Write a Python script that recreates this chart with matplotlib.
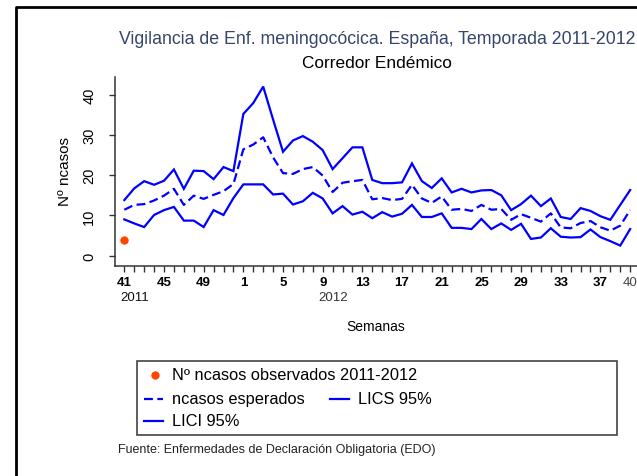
import matplotlib.pyplot as plt
from matplotlib.lines import Line2D
from matplotlib.patches import Rectangle

plt.rcParams['font.family'] = ['Liberation Sans', 'DejaVu Sans']

# season weeks 41/2011 .. 40/2012
weeks = list(range(41, 53)) + list(range(1, 41))
observados = [4]
esperados = [11.4, 12.6, 12.8, 13.7, 14.9, 16.6, 12.6, 14.9, 14.1, 15.1, 16.0, 17.8,
             26.4, 27.6, 29.4, 24.4, 20.5, 20.3, 21.5, 22.0, 19.9, 15.8, 18.1, 18.5,
             18.8, 14.0, 14.3, 13.8, 14.1, 17.6, 14.2, 13.1, 14.7, 11.4, 11.6, 11.1,
             12.6, 11.4, 11.6, 8.9, 10.3, 9.4, 8.45, 10.5, 7.0, 6.8, 8.1, 8.6,
             7.05, 6.2, 7.45, 11.35]
lics = [13.8, 16.7, 18.5, 17.6, 18.6, 21.4, 16.6, 21.1, 21.0, 19.0, 22.0, 21.0,
        35.2, 37.9, 42.0, 33.8, 25.8, 28.6, 29.7, 28.3, 26.2, 21.5, 24.2, 26.9,
        26.9, 18.8, 18.0, 18.0, 18.2, 22.9, 18.5, 16.8, 19.2, 15.7, 16.6, 15.7,
        16.2, 16.3, 15.0, 11.3, 12.8, 14.9, 12.3, 14.2, 9.6, 9.1, 11.8, 11.1,
        9.8, 8.9, 12.6, 16.3]
lici = [9.0, 8.0, 7.1, 10.1, 11.3, 12.1, 8.7, 8.7, 7.1, 11.3, 10.1, 14.3,
        17.7, 17.7, 17.7, 15.2, 15.4, 12.7, 13.5, 15.6, 14.2, 10.5, 12.3, 10.2,
        10.9, 9.3, 10.8, 9.7, 10.4, 12.6, 9.6, 9.6, 10.5, 6.9, 6.9, 6.6,
        9.1, 6.6, 8.0, 6.4, 7.9, 4.15, 4.5, 6.8, 4.7, 4.5, 4.6, 6.5,
        4.6, 3.6, 2.5, 6.6]
yticks = [0, 10, 20, 30, 40]
labelled_weeks = [41, 45, 49, 1, 5, 9, 13, 17, 21, 25, 29, 33, 37]
last_week = 40
years = ['2011', '2012']
year_at = [0, 20]  # index of week 41/2011 and 9/2012

BLUE = '#0000ff'
W, H = 637, 477
fig = plt.figure(figsize=(W / 100, H / 100), dpi=100)


def fx(px):
    return px / W


def fy(py):
    return 1 - py / H


ax = fig.add_axes([fx(115), fy(266.7), fx(650) - fx(115), fy(78.3) - fy(266.7)])
x = list(range(len(weeks)))
ax.plot(x, lics, color=BLUE, lw=1.6, solid_joinstyle='miter')
ax.plot(x, esperados, color=BLUE, lw=1.6, ls=(0, (4, 2)))
ax.plot(x, lici, color=BLUE, lw=1.6, solid_joinstyle='miter')
ax.plot(x[:len(observados)], observados, 'o', color='#ff4500', ms=6, mec='none')

ax.set_xlim(-0.94, 53.0)
ax.set_ylim(-2.5, 44.3)

# axes: R style L box
for s in ['top', 'right']:
    ax.spines[s].set_visible(False)
for s in ['left', 'bottom']:
    ax.spines[s].set_color('#333333')
    ax.spines[s].set_linewidth(1.1)

ax.set_yticks(yticks)
ax.set_yticklabels([str(v) for v in yticks], rotation=90, va='center', fontsize=10.5)
ax.tick_params(axis='y', length=4.5, width=1, color='#333333', pad=9)

xlabels = []
for w in weeks:
    if w in labelled_weeks and str(w) not in xlabels:
        xlabels.append(str(w))
    elif w == last_week:
        xlabels.append(str(w))
    else:
        xlabels.append('')
ax.set_xticks(x)
ax.set_xticklabels(xlabels, fontsize=9.5, fontweight='bold')
ax.tick_params(axis='x', length=4, width=1, color='#333333', pad=3.5)
lbls = ax.get_xticklabels()
lbls[-1].set_fontweight('normal')
lbls[-1].set_color('#444444')

for yr, i in zip(years, year_at):
    ax.annotate(yr, xy=(i - 0.4, 0), xycoords=('data', 'axes fraction'),
                xytext=(0, -22.5), textcoords='offset points',
                ha='left', va='center', fontsize=9.5,
                color='#111111' if yr == '2011' else '#333333')

fig.text(fx(65), fy(172), 'Nº ncasos', rotation=90, ha='center', va='center', fontsize=11)
fig.text(fx(376), fy(327), 'Semanas', ha='center', va='center', fontsize=10)

# titles
fig.text(fx(377), fy(40), 'Vigilancia de Enf. meningocócica. España, Temporada 2011-2012',
         ha='center', va='center', fontsize=12.8, color='#36456b')
fig.text(fx(377), fy(63), 'Corredor Endémico', ha='center', va='center',
         fontsize=12.4, color='black')

# legend drawn R-style in a box
fig.add_artist(Rectangle((fx(137), fy(436)), fx(617) - fx(137), fy(362) - fy(436),
                         transform=fig.transFigure, fill=False,
                         edgecolor='#444444', lw=1.2))
fig.add_artist(Line2D([fx(155)], [fy(376)], marker='o', color='#ff4500', ms=6,
                      mec='none', transform=fig.transFigure))
fig.text(fx(172), fy(376), 'Nº ncasos observados 2011-2012', ha='left', va='center', fontsize=11.8)
fig.add_artist(Line2D([fx(144), fx(163)], [fy(400), fy(400)], color=BLUE, lw=1.6,
                      ls=(0, (4, 2)), transform=fig.transFigure))
fig.text(fx(172), fy(400), 'ncasos esperados', ha='left', va='center', fontsize=11.8)
fig.add_artist(Line2D([fx(330), fx(349)], [fy(400), fy(400)], color=BLUE, lw=1.6,
                      transform=fig.transFigure))
fig.text(fx(358), fy(400), 'LICS 95%', ha='left', va='center', fontsize=11.8)
fig.add_artist(Line2D([fx(144), fx(163)], [fy(422), fy(422)], color=BLUE, lw=1.6,
                      transform=fig.transFigure))
fig.text(fx(172), fy(422), 'LICI 95%', ha='left', va='center', fontsize=11.8)

fig.text(fx(118), fy(450), 'Fuente: Enfermedades de Declaración Obligatoria (EDO)',
         ha='left', va='center', fontsize=9, color='#222222')

# outer frame (left and top edges only are visible)
fig.add_artist(Line2D([fx(16), fx(16), fx(640)], [fy(480), fy(8), fy(8)],
                      color='black', lw=2, transform=fig.transFigure))

fig.savefig('out.png', dpi=100)
